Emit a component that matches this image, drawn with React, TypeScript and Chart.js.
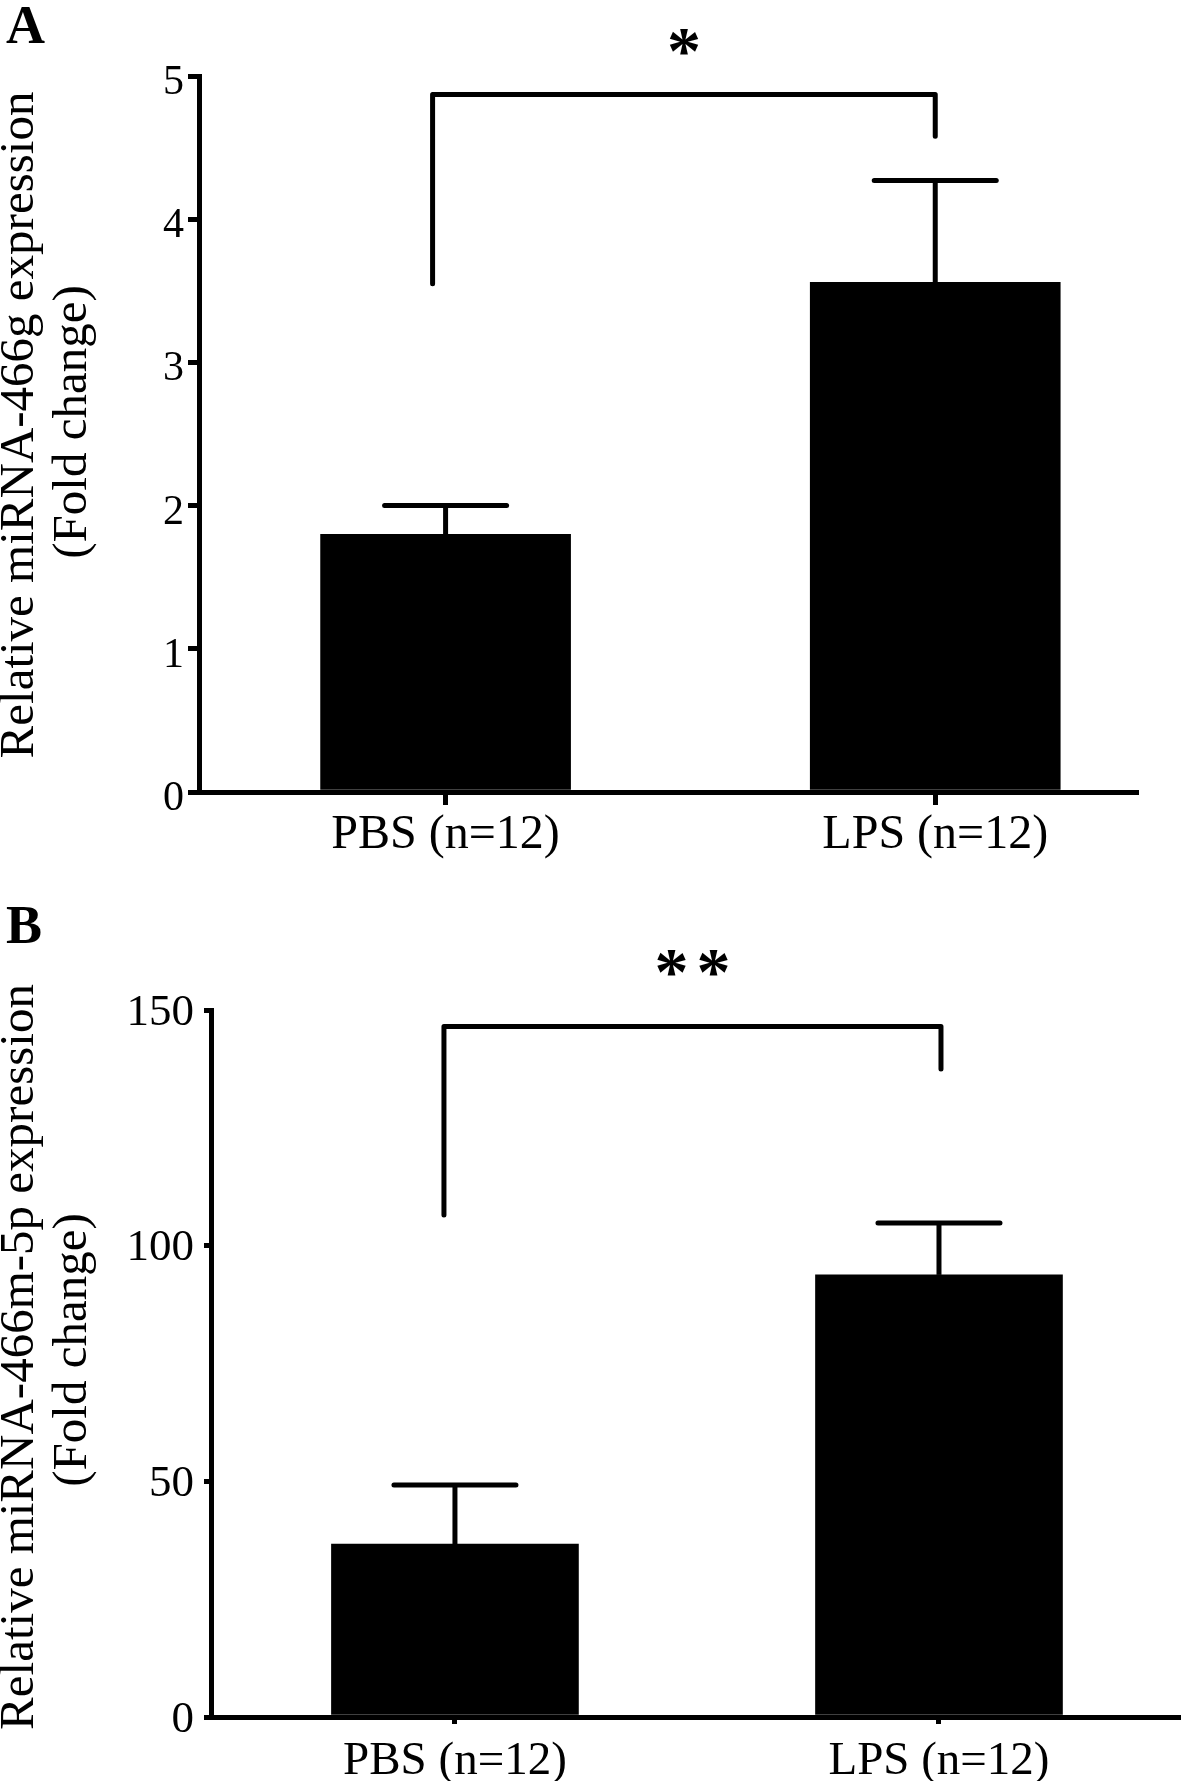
import React, { useEffect, useRef } from "react";
import { Chart, registerables } from "chart.js";

Chart.register(...registerables);

// ---------- data ----------
const categories = ["PBS (n=12)", "LPS (n=12)"];

// Panel A: miRNA-466g
const meanA = [1.8, 3.56];
const errA = [0.2, 0.71];
const yTicksA = [0, 1, 2, 3, 4, 5];
const bracketA = [3.55, 4.87, 4.58]; // left end, top, right end (value units)
const starA = "*";
const titleA = ["Relative miRNA-466g expression", "(Fold change)"];
const letterA = "A";

// Panel B: miRNA-466m-5p
const meanB = [36.7, 93.8];
const errB = [12.5, 11.0];
const yTicksB = [0, 50, 100, 150];
const bracketB = [106.5, 146.5, 137.5];
const starB = "**";
const titleB = ["Relative miRNA-466m-5p expression", "(Fold change)"];
const letterB = "B";

const FONT = '"Liberation Serif", "Times New Roman", serif';

type Panel = {
  means: number[];
  errs: number[];
  yTicks: number[];
  bracket: number[];
  star: string;
  title: string[];
  letter: string;
  top: number;
  height: number;
  padTop: number;
  padRight: number;
  yAxisWidth: number;
  xAxisHeight: number;
  xMin: number;
  xMax: number;
  barWidth: number;
  yTickLen: number;
  yTickPad: number;
  yTickFont: number;
  yLabelOffset: number;
  xTickLen: number;
  xTickPad: number;
  xTickFont: number;
  bracketDx: [number, number];
  starDy: number;
  starFont: number;
  starSpacing: number;
  titleFont: number;
  titleX: [number, number];
  titleY: [number, number];
  letterX: number;
  letterY: number;
};

const panelA: Panel = {
  means: meanA, errs: errA, yTicks: yTicksA, bracket: bracketA, star: starA, title: titleA, letter: letterA,
  top: 0, height: 890, padTop: 76, padRight: 45, yAxisWidth: 199, xAxisHeight: 98,
  xMin: -0.5036, xMax: 1.41, barWidth: 250,
  yTickLen: 11, yTickPad: 4, yTickFont: 42, yLabelOffset: 7,
  xTickLen: 13, xTickPad: 2, xTickFont: 48,
  bracketDx: [-13, 0], starDy: -53, starFont: 68, starSpacing: 0,
  titleFont: 49, titleX: [33, 86], titleY: [425, 422],
  letterX: 6, letterY: 43,
};

const panelB: Panel = {
  means: meanB, errs: errB, yTicks: yTicksB, bracket: bracketB, star: starB, title: titleB, letter: letterB,
  top: 890, height: 891, padTop: 120, padRight: 0, yAxisWidth: 211, xAxisHeight: 64,
  xMin: -0.504, xMax: 1.5, barWidth: 247,
  yTickLen: 7, yTickPad: 10, yTickFont: 45, yLabelOffset: 3,
  xTickLen: 7, xTickPad: 9, xTickFont: 47,
  bracketDx: [-11, 2], starDy: -63, starFont: 68, starSpacing: 8,
  titleFont: 49, titleX: [33, 86], titleY: [467, 460],
  letterX: 6, letterY: 53,
};

function makeOverlay(p: Panel) {
  return {
    id: "overlay",
    afterDatasetsDraw(chart: any) {
      const { ctx } = chart;
      const xs = chart.scales.x;
      const ys = chart.scales.y;
      ctx.save();
      ctx.strokeStyle = "#000";
      ctx.fillStyle = "#000";
      // error bars (upper only)
      p.means.forEach((m, i) => {
        const cx = xs.getPixelForValue(i);
        const y0 = ys.getPixelForValue(m);
        const y1 = ys.getPixelForValue(m + p.errs[i]);
        ctx.lineWidth = 5;
        ctx.lineCap = "butt";
        ctx.beginPath();
        ctx.moveTo(cx, y0);
        ctx.lineTo(cx, y1);
        ctx.stroke();
        ctx.lineCap = "round";
        ctx.beginPath();
        ctx.moveTo(cx - 61, y1);
        ctx.lineTo(cx + 61, y1);
        ctx.stroke();
      });
      // significance bracket
      const xl = xs.getPixelForValue(0) + p.bracketDx[0];
      const xr = xs.getPixelForValue(1) + p.bracketDx[1];
      const yl = ys.getPixelForValue(p.bracket[0]);
      const yt = ys.getPixelForValue(p.bracket[1]);
      const yr = ys.getPixelForValue(p.bracket[2]);
      ctx.lineWidth = 5;
      ctx.lineCap = "round";
      ctx.lineJoin = "round";
      ctx.beginPath();
      ctx.moveTo(xl, yl);
      ctx.lineTo(xl, yt);
      ctx.lineTo(xr, yt);
      ctx.lineTo(xr, yr);
      ctx.stroke();
      // stars (each glyph drawn with spacing, centred over the bracket)
      ctx.font = `bold ${p.starFont}px ${FONT}`;
      ctx.textAlign = "left";
      ctx.textBaseline = "alphabetic";
      const chars = p.star.split("");
      const widths = chars.map((c) => ctx.measureText(c).width);
      const total = widths.reduce((a, b) => a + b, 0) + p.starSpacing * (chars.length - 1);
      const m = ctx.measureText(p.star);
      const asc = m.actualBoundingBoxAscent;
      const desc = m.actualBoundingBoxDescent;
      const cy = yt + p.starDy;
      let sx = (xl + xr) / 2 - total / 2;
      chars.forEach((c, i) => {
        ctx.fillText(c, sx, cy + (asc - desc) / 2);
        sx += widths[i] + p.starSpacing;
      });
      ctx.restore();
    },
    afterDraw(chart: any) {
      const { ctx } = chart;
      ctx.save();
      ctx.fillStyle = "#000";
      ctx.font = `${p.titleFont}px ${FONT}`;
      ctx.textAlign = "center";
      ctx.textBaseline = "alphabetic";
      p.title.forEach((t, i) => {
        ctx.save();
        ctx.translate(p.titleX[i], p.titleY[i]);
        ctx.rotate(-Math.PI / 2);
        ctx.fillText(t, 0, 0);
        ctx.restore();
      });
      ctx.font = `bold 54px ${FONT}`;
      ctx.textAlign = "left";
      ctx.fillText(p.letter, p.letterX, p.letterY);
      ctx.restore();
    },
  };
}

function PanelChart({ p }: { p: Panel }) {
  const ref = useRef<HTMLCanvasElement>(null);
  useEffect(() => {
    const canvas = ref.current!;
    const chart = new Chart(canvas, {
      type: "bar",
      data: {
        datasets: [
          {
            data: p.means.map((v, i) => ({ x: i, y: v })),
            backgroundColor: "#000",
            borderWidth: 0,
            barThickness: p.barWidth,
          } as any,
        ],
      },
      options: {
        responsive: false,
        animation: false,
        devicePixelRatio: 1,
        layout: { padding: { top: p.padTop, right: p.padRight, left: 0, bottom: 0 } },
        plugins: { legend: { display: false }, tooltip: { enabled: false } },
        scales: {
          x: {
            type: "linear",
            min: p.xMin,
            max: p.xMax,
            offset: false,
            afterBuildTicks: (s: any) => {
              s.ticks = categories.map((_, i) => ({ value: i }));
            },
            afterFit: (s: any) => {
              s.height = p.xAxisHeight;
            },
            ticks: {
              callback: (_v: any, i: number) => categories[i],
              font: { family: FONT, size: p.xTickFont },
              color: "#000",
              padding: p.xTickPad,
              maxRotation: 0,
              minRotation: 0,
              autoSkip: false,
            },
            grid: {
              drawOnChartArea: false,
              drawTicks: true,
              tickLength: p.xTickLen,
              lineWidth: 5,
              color: "#000",
              offset: false,
            },
            border: { display: true, color: "#000", width: 5 },
          },
          y: {
            type: "linear",
            min: 0,
            max: p.yTicks[p.yTicks.length - 1],
            afterBuildTicks: (s: any) => {
              s.ticks = p.yTicks.map((v) => ({ value: v }));
            },
            afterFit: (s: any) => {
              s.width = p.yAxisWidth;
            },
            ticks: {
              font: { family: FONT, size: p.yTickFont },
              color: "#000",
              padding: p.yTickPad,
              labelOffset: p.yLabelOffset,
            },
            grid: {
              drawOnChartArea: false,
              drawTicks: true,
              tickLength: p.yTickLen,
              lineWidth: 5,
              color: "#000",
            },
            border: { display: true, color: "#000", width: 5 },
          },
        },
      } as any,
      plugins: [makeOverlay(p)],
    });
    return () => chart.destroy();
  }, []);
  return (
    <canvas
      ref={ref}
      width={1181}
      height={p.height}
      style={{ position: "absolute", left: 0, top: p.top, width: 1181, height: p.height }}
    />
  );
}

export default function App() {
  return (
    <div
      style={{
        position: "absolute",
        left: 0,
        top: 0,
        width: 1181,
        height: 1781,
        background: "#fff",
        overflow: "hidden",
      }}
    >
      <PanelChart p={panelA} />
      <PanelChart p={panelB} />
    </div>
  );
}
